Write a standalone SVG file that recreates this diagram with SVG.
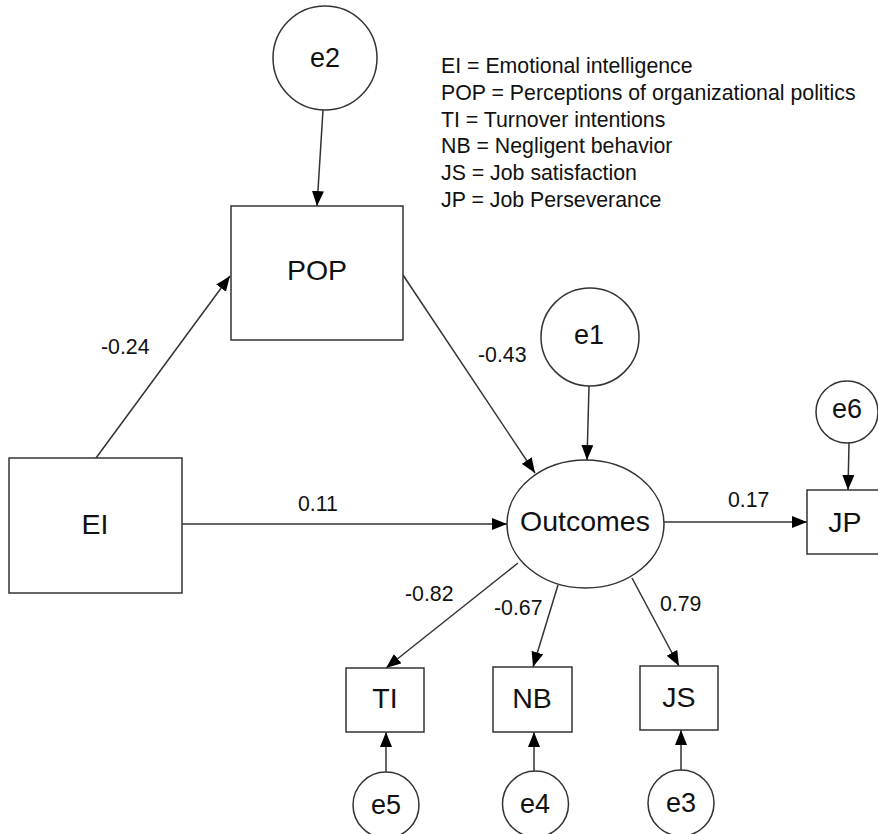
<svg xmlns="http://www.w3.org/2000/svg" width="878" height="834" viewBox="0 0 878 834">
<style>
.n{fill:#fff;stroke:#333;stroke-width:1.5}
.t{font-family:"Liberation Sans",Arial,sans-serif;fill:#111;text-anchor:middle}
.big{font-size:28.5px}
.e{font-size:27px}
.lbl{font-family:"Liberation Sans",Arial,sans-serif;fill:#111;font-size:21.3px}
.c{stroke:#333;stroke-width:1.5;fill:none;marker-end:url(#ah)}
</style>
<defs>
<marker id="ah" markerUnits="userSpaceOnUse" markerWidth="15" markerHeight="12" refX="15" refY="6" orient="auto" viewBox="0 0 15 12">
<path d="M0,0 L15,6 L0,12 z" fill="#000"/>
</marker>
</defs>
<rect width="878" height="834" fill="#fff"/>
<g id="connectors">
<line class="c" x1="323" y1="110" x2="317" y2="206"/>
<line class="c" x1="96" y1="458" x2="230" y2="276"/>
<line class="c" x1="403" y1="275" x2="535" y2="473"/>
<line class="c" x1="589" y1="386" x2="587" y2="460"/>
<line class="c" x1="182" y1="524" x2="507" y2="524"/>
<line class="c" x1="664" y1="522" x2="807" y2="522"/>
<line class="c" x1="849" y1="443" x2="848" y2="490"/>
<line class="c" x1="518" y1="563" x2="386" y2="668"/>
<line class="c" x1="558" y1="585" x2="533" y2="667"/>
<line class="c" x1="632" y1="578" x2="679" y2="666"/>
<line class="c" x1="386" y1="772" x2="386" y2="732"/>
<line class="c" x1="534" y1="771" x2="534" y2="732"/>
<line class="c" x1="681" y1="770" x2="681" y2="730"/>
</g>
<g id="labels">
<text class="lbl" x="101" y="354">-0.24</text>
<text class="lbl" x="478" y="362">-0.43</text>
<text class="lbl" x="298" y="511">0.11</text>
<text class="lbl" x="728" y="507">0.17</text>
<text class="lbl" x="405" y="601">-0.82</text>
<text class="lbl" x="494" y="615">-0.67</text>
<text class="lbl" x="660" y="611">0.79</text>
</g>
<g id="legend">
<text class="lbl" x="441" y="73">EI = Emotional intelligence</text>
<text class="lbl" x="441" y="100">POP = Perceptions of organizational politics</text>
<text class="lbl" x="441" y="127">TI = Turnover intentions</text>
<text class="lbl" x="441" y="153">NB = Negligent behavior</text>
<text class="lbl" x="441" y="180">JS = Job satisfaction</text>
<text class="lbl" x="441" y="207">JP = Job Perseverance</text>
</g>
<g id="e2"><circle class="n" cx="325" cy="58" r="52"/><text class="t e" x="325" y="67">e2</text></g>
<g id="POP"><rect class="n" x="231" y="206" width="172" height="134"/><text class="t big" x="317" y="280">POP</text></g>
<g id="EI"><rect class="n" x="9" y="458" width="173" height="135"/><text class="t big" x="95" y="534">EI</text></g>
<g id="e1"><circle class="n" cx="590" cy="337" r="49"/><text class="t e" x="589" y="344">e1</text></g>
<g id="Outcomes"><ellipse class="n" cx="585.5" cy="524" rx="78.5" ry="64"/><text class="t big" x="585" y="531">Outcomes</text></g>
<g id="e6"><circle class="n" cx="847" cy="412" r="31"/><text class="t e" x="847" y="418">e6</text></g>
<g id="JP"><rect class="n" x="807" y="490" width="76" height="64"/><text class="t big" x="845" y="532">JP</text></g>
<g id="TI"><rect class="n" x="346" y="668" width="78" height="64"/><text class="t big" x="385" y="708">TI</text></g>
<g id="NB"><rect class="n" x="493" y="667" width="79" height="65"/><text class="t big" x="532" y="708">NB</text></g>
<g id="JS"><rect class="n" x="640" y="666" width="78" height="64"/><text class="t big" x="679" y="707">JS</text></g>
<g id="e5"><circle class="n" cx="386" cy="805" r="33"/><text class="t e" x="386" y="814">e5</text></g>
<g id="e4"><circle class="n" cx="535.5" cy="804" r="33"/><text class="t e" x="535" y="813">e4</text></g>
<g id="e3"><circle class="n" cx="681" cy="803" r="33"/><text class="t e" x="681" y="812">e3</text></g>
</svg>
